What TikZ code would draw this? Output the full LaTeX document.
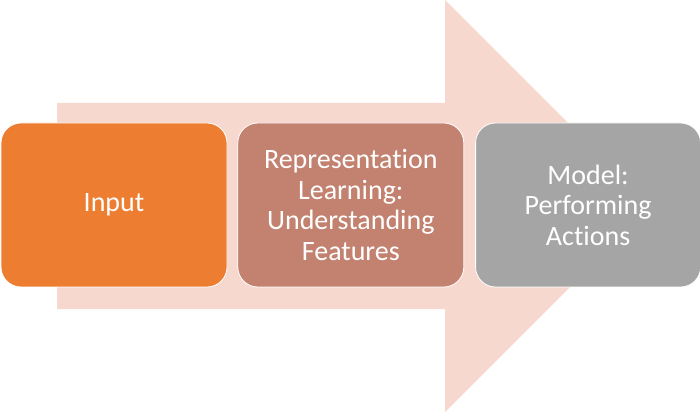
\documentclass[tikz,border=0pt]{standalone}
\usepackage{fontspec}
\setmainfont[Ligatures=NoCommon]{Carlito}
\usepackage{tikz}
\usetikzlibrary{positioning}

\definecolor{arrowfill}{HTML}{F6D8CE}
\definecolor{inputfill}{HTML}{ED7D31}
\definecolor{reprfill}{HTML}{C38170}
\definecolor{modelfill}{HTML}{A5A5A5}

\begin{document}
\begin{tikzpicture}[x=1pt, y=1pt]
        \tikzstyle{every node}=[draw=white, line width=0.8pt, rounded corners=20pt,
            minimum width=226pt, minimum height=164pt, inner sep=0pt,
            text=white, align=center, font=\fontsize{28}{30.5}\selectfont]

        \useasboundingbox (0,0) rectangle (700,412);

        % big arrow behind the boxes
        \fill[arrowfill] (57,103) -- (445,103) -- (445,0) -- (651,206)
            -- (445,412) -- (445,309) -- (57,309) -- cycle;

        \node (input) [fill=inputfill] at (114,207) {Input};
        \node (repr)  [fill=reprfill, right=10pt of input]
            {Representation\\Learning:\\Understanding\\Features};
        \node (model) [fill=modelfill, right=11pt of repr, minimum width=225pt]
            {Model:\\Performing\\Actions};

    \end{tikzpicture}
\end{document}
